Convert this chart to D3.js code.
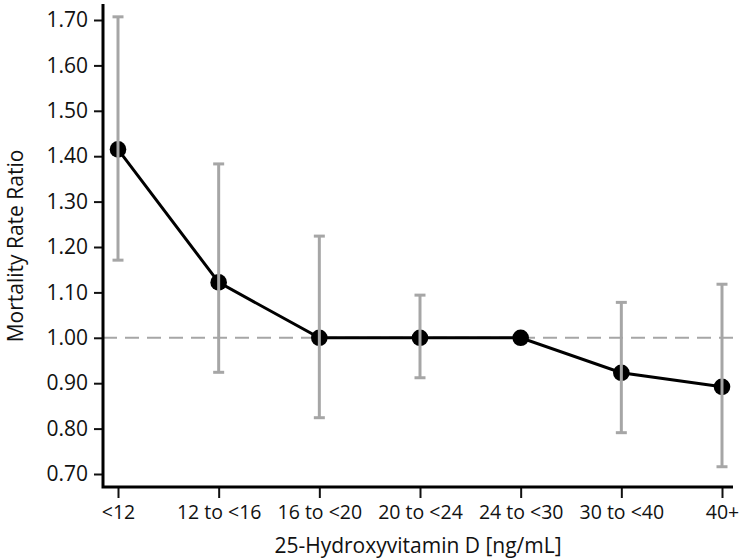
<!DOCTYPE html>
<html>
<head>
<meta charset="utf-8">
<script src="https://cdn.jsdelivr.net/npm/d3@7"></script>
<style>
  body { margin: 0; background: #fff; }
  svg text { font-family: "Open Sans", sans-serif; fill: #111; }
</style>
</head>
<body>
<svg id="chart" width="746" height="559"></svg>
<script>
var categories = ["<12", "12 to <16", "16 to <20", "20 to <24", "24 to <30", "30 to <40", "40+"];
var ratios = [1.415, 1.122, 1.00, 1.00, 1.00, 0.923, 0.892];
var lowerCI = [1.171, 0.924, 0.824, 0.912, null, 0.791, 0.716];
var upperCI = [1.707, 1.383, 1.224, 1.094, null, 1.078, 1.118];
var yTicks = [0.70, 0.80, 0.90, 1.00, 1.10, 1.20, 1.30, 1.40, 1.50, 1.60, 1.70];

var svg = d3.select("#chart");
var grey = "#a6a6a6";
var fontSize = 21;

var x = d3.scalePoint().domain(categories).range([118, 722]);
var y = d3.scaleLinear().domain([0.70, 1.70]).range([474, 20]);

var axisLeft = 103, axisBottom = 487, axisRight = 733, axisTop = 4;

// reference line at 1.00
svg.append("line")
  .attr("x1", axisLeft).attr("x2", axisRight)
  .attr("y1", y(1)).attr("y2", y(1))
  .attr("stroke", grey).attr("stroke-width", 2)
  .attr("stroke-dasharray", "14,8");

// y axis
var yAxis = d3.axisLeft(y).tickValues(yTicks).tickFormat(d3.format(".2f"))
  .tickSize(9).tickPadding(6);
var gy = svg.append("g").attr("transform", "translate(" + axisLeft + ",0)").call(yAxis);
gy.select(".domain").remove();
gy.attr("font-size", fontSize).attr("font-family", null);
gy.selectAll(".tick line").attr("stroke", "#111").attr("stroke-width", 2);
gy.selectAll(".tick text").attr("fill", "#111");

// x axis
var xAxis = d3.axisBottom(x).tickSize(11).tickPadding(7);
var gx = svg.append("g").attr("transform", "translate(0," + axisBottom + ")").call(xAxis);
gx.select(".domain").remove();
gx.attr("font-size", 19.5).attr("font-family", null);
gx.selectAll(".tick line").attr("stroke", "#111").attr("stroke-width", 2);
gx.selectAll(".tick text").attr("fill", "#111");

// axis lines
svg.append("path")
  .attr("d", "M" + axisLeft + "," + axisTop + "V" + axisBottom + "H" + axisRight)
  .attr("fill", "none").attr("stroke", "#000").attr("stroke-width", 3);

// connecting line
var pts = categories.map(function(c, i) { return { cat: c, v: ratios[i], lo: lowerCI[i], hi: upperCI[i] }; });
svg.append("path")
  .datum(pts)
  .attr("d", d3.line().x(function(d) { return x(d.cat); }).y(function(d) { return y(d.v); }))
  .attr("fill", "none").attr("stroke", "#000").attr("stroke-width", 3);

// dots
svg.selectAll("circle.dot").data(pts).enter().append("circle")
  .attr("class", "dot")
  .attr("cx", function(d) { return x(d.cat); })
  .attr("cy", function(d) { return y(d.v); })
  .attr("r", 8.3).attr("fill", "#000");

// error bars (drawn over the dots, like the original)
var bars = pts.filter(function(d) { return d.lo != null; });
var eb = svg.selectAll("g.eb").data(bars).enter().append("g").attr("class", "eb")
  .attr("stroke", grey).attr("stroke-width", 3);
eb.append("line")
  .attr("x1", function(d) { return x(d.cat); }).attr("x2", function(d) { return x(d.cat); })
  .attr("y1", function(d) { return y(d.lo); }).attr("y2", function(d) { return y(d.hi); });
eb.append("line")
  .attr("x1", function(d) { return x(d.cat) - 5.5; }).attr("x2", function(d) { return x(d.cat) + 5.5; })
  .attr("y1", function(d) { return y(d.hi); }).attr("y2", function(d) { return y(d.hi); });
eb.append("line")
  .attr("x1", function(d) { return x(d.cat) - 5.5; }).attr("x2", function(d) { return x(d.cat) + 5.5; })
  .attr("y1", function(d) { return y(d.lo); }).attr("y2", function(d) { return y(d.lo); });

// titles
svg.append("text")
  .attr("x", 418).attr("y", 553)
  .attr("text-anchor", "middle").attr("font-size", fontSize)
  .text("25-Hydroxyvitamin D [ng/mL]");

svg.append("text")
  .attr("transform", "translate(23,246) rotate(-90)")
  .attr("text-anchor", "middle").attr("font-size", fontSize)
  .text("Mortality Rate Ratio");
</script>
</body>
</html>
